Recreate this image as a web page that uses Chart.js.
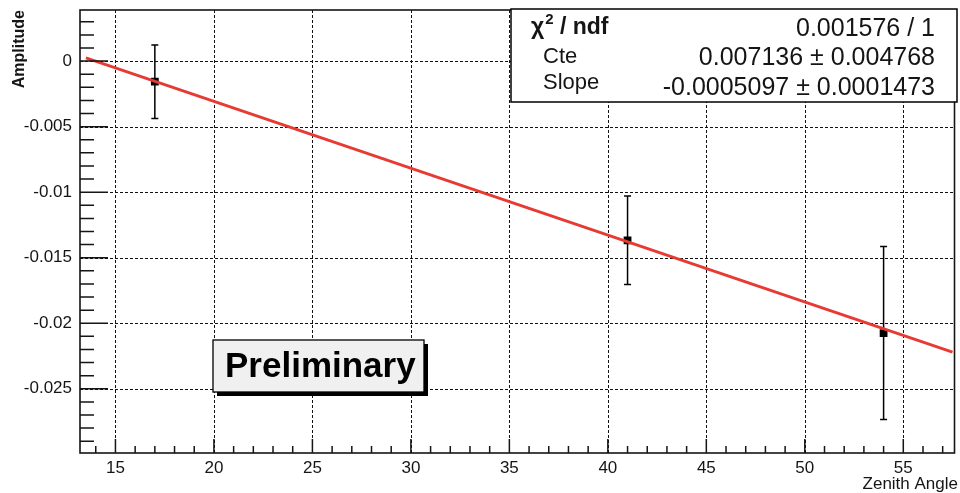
<!DOCTYPE html>
<html>
<head>
<meta charset="utf-8">
<script src="https://cdn.jsdelivr.net/npm/chart.js@4.4.1/dist/chart.umd.min.js"></script>
<style>
  html, body { margin: 0; padding: 0; background: #fff; }
  #wrap { width: 960px; height: 493px; position: relative; }
</style>
</head>
<body>
<div id="wrap"><canvas id="c"></canvas></div>
<script>
// ---- data ----
const xValues = [17, 41, 54];
const yValues = [-0.00157, -0.01367, -0.02075];
const yErrors = [0.0028, 0.00337, 0.0066];
const fitX = [13.5, 57.5];
const fitY = [0.00025, -0.0222];
const xTicks = [15, 20, 25, 30, 35, 40, 45, 50, 55];
const xTickLabels = ['15', '20', '25', '30', '35', '40', '45', '50', '55'];
const yTicks = [0, -0.005, -0.01, -0.015, -0.02, -0.025];
const yTickLabels = ['0', '-0.005', '-0.01', '-0.015', '-0.02', '-0.025'];
const statsLabels = ['\u03C7', 'Cte', 'Slope'];
const statsValues = ['0.001576 / 1', '0.007136 \u00B1 0.004768', '-0.0005097 \u00B1 0.0001473'];
const xTitle = 'Zenith Angle';
const yTitle = 'Amplitude';
const stampText = 'Preliminary';

const FONT = '"Liberation Sans", Arial, Helvetica, sans-serif';
const INK = '#151515';

const rootPlugin = {
  id: 'rootStyle',
  beforeDatasetsDraw(chart) {
    const ctx = chart.ctx, a = chart.chartArea;
    const xs = chart.scales.x, ys = chart.scales.y;
    ctx.save();
    // dotted grid
    ctx.strokeStyle = '#111';
    ctx.lineWidth = 1;
    ctx.setLineDash([3, 2]);
    xTicks.forEach(v => {
      const px = Math.round(xs.getPixelForValue(v)) + 0.5;
      ctx.beginPath(); ctx.moveTo(px, a.top); ctx.lineTo(px, a.bottom); ctx.stroke();
    });
    yTicks.forEach(v => {
      const py = Math.round(ys.getPixelForValue(v)) + 0.5;
      ctx.beginPath(); ctx.moveTo(a.left, py); ctx.lineTo(a.right, py); ctx.stroke();
    });
    ctx.setLineDash([]);
    // error bars
    ctx.strokeStyle = '#000';
    ctx.lineWidth = 1.5;
    xValues.forEach((x, i) => {
      const px = xs.getPixelForValue(x);
      const top = ys.getPixelForValue(yValues[i] + yErrors[i]);
      const bot = ys.getPixelForValue(yValues[i] - yErrors[i]);
      ctx.beginPath();
      ctx.moveTo(px, top); ctx.lineTo(px, bot);
      ctx.moveTo(px - 3.5, top); ctx.lineTo(px + 3.5, top);
      ctx.moveTo(px - 3.5, bot); ctx.lineTo(px + 3.5, bot);
      ctx.stroke();
    });
    ctx.restore();
  },
  afterDraw(chart) {
    const ctx = chart.ctx, a = chart.chartArea;
    const xs = chart.scales.x, ys = chart.scales.y;
    ctx.save();
    // ticks (inward)
    ctx.strokeStyle = INK;
    ctx.lineWidth = 1.5;
    ctx.beginPath();
    for (let k = -29; k <= 3; k++) {
      const py = ys.getPixelForValue(k * 0.001);
      const len = (k % 5 === 0) ? 28 : 14;
      ctx.moveTo(a.left, py); ctx.lineTo(a.left + len, py);
    }
    for (let k = 14; k <= 57; k++) {
      const px = xs.getPixelForValue(k);
      const len = (k % 5 === 0) ? 14 : 7;
      ctx.moveTo(px, a.bottom); ctx.lineTo(px, a.bottom - len);
    }
    ctx.stroke();
    // frame
    ctx.lineWidth = 1.6;
    ctx.strokeRect(a.left, a.top, a.right - a.left, a.bottom - a.top);

    // axis titles
    ctx.fillStyle = INK;
    ctx.font = '17px ' + FONT;
    ctx.textAlign = 'right';
    ctx.textBaseline = 'alphabetic';
    ctx.fillText(xTitle, 958, 489);
    ctx.save();
    ctx.translate(24, 10);
    ctx.rotate(-Math.PI / 2);
    ctx.textAlign = 'right';
    ctx.font = 'bold 16px ' + FONT;
    ctx.fillText(yTitle, 0, 0);
    ctx.restore();

    // stats box
    const bx = 511, by = 9, bw = 446, bh = 93;
    ctx.fillStyle = '#fff';
    ctx.fillRect(bx, by, bw, bh);
    ctx.strokeStyle = '#000';
    ctx.lineWidth = 1.5;
    ctx.strokeRect(bx, by, bw, bh);
    ctx.fillStyle = INK;
    // chi2 label
    ctx.textAlign = 'left';
    ctx.font = 'bold 23px ' + FONT;
    ctx.fillText(statsLabels[0], 531, 34);
    let w = ctx.measureText(statsLabels[0]).width;
    ctx.font = 'bold 15px ' + FONT;
    ctx.fillText('2', 531 + w + 1, 24);
    let w2 = ctx.measureText('2').width;
    ctx.font = 'bold 23px ' + FONT;
    ctx.fillText(' / ndf', 531 + w + w2 + 1, 34);
    ctx.font = '22px ' + FONT;
    ctx.fillText(statsLabels[1], 543, 63);
    ctx.fillText(statsLabels[2], 543, 89);
    ctx.textAlign = 'right';
    ctx.font = '25px ' + FONT;
    ctx.fillText(statsValues[0], 935, 36);
    ctx.fillText(statsValues[1], 935, 65);
    ctx.fillText(statsValues[2], 935, 95);

    // Preliminary stamp
    const px0 = 213, py0 = 340, pw = 211, ph = 52;
    ctx.fillStyle = '#000';
    ctx.fillRect(px0 + 4, py0 + 4, pw, ph);
    ctx.fillStyle = '#f0f0f0';
    ctx.fillRect(px0, py0, pw, ph);
    ctx.strokeStyle = '#000';
    ctx.lineWidth = 1.3;
    ctx.strokeRect(px0, py0, pw, ph);
    ctx.fillStyle = '#000';
    ctx.font = 'bold 35px ' + FONT;
    ctx.textAlign = 'left';
    ctx.fillText(stampText, 225, 377);
    ctx.restore();
  }
};

function zeroPad(s) {
  s.paddingTop = 0; s.paddingBottom = 0; s.paddingLeft = 0; s.paddingRight = 0;
}

new Chart(document.getElementById('c'), {
  type: 'scatter',
  data: {
    datasets: [
      {
        label: 'fit',
        data: fitX.map((x, i) => ({ x: x, y: fitY[i] })),
        showLine: true,
        borderColor: '#e63a33',
        borderWidth: 2.8,
        pointRadius: 0,
        order: 1
      },
      {
        label: 'data',
        data: xValues.map((x, i) => ({ x: x, y: yValues[i] })),
        pointStyle: 'rect',
        pointRadius: 5.5,
        backgroundColor: '#000',
        borderColor: '#000',
        borderWidth: 0,
        order: 2
      }
    ]
  },
  options: {
    responsive: true,
    maintainAspectRatio: false,
    animation: false,
    layout: { padding: { top: 10, right: 2, left: 0, bottom: 0 } },
    plugins: { legend: { display: false }, tooltip: { enabled: false } },
    scales: {
      x: {
        type: 'linear',
        min: 13.2,
        max: 57.6,
        afterFit(s) { s.height = 40; zeroPad(s); },
        afterBuildTicks(s) { s.ticks = xTicks.map(v => ({ value: v })); },
        grid: { display: false, drawTicks: false },
        border: { display: false },
        ticks: {
          padding: 5,
          color: INK,
          font: { family: FONT, size: 17 },
          maxRotation: 0,
          autoSkip: false,
          callback(v) { const i = xTicks.indexOf(v); return i >= 0 ? xTickLabels[i] : ''; }
        }
      },
      y: {
        type: 'linear',
        min: -0.0299,
        max: 0.0039,
        afterFit(s) { s.width = 80; zeroPad(s); },
        afterBuildTicks(s) { s.ticks = yTicks.map(v => ({ value: v })); },
        grid: { display: false, drawTicks: false },
        border: { display: false },
        ticks: {
          padding: 8,
          color: INK,
          font: { family: FONT, size: 17 },
          autoSkip: false,
          callback(v) {
            let best = -1;
            yTicks.forEach((t, i) => { if (Math.abs(t - v) < 1e-9) best = i; });
            return best >= 0 ? yTickLabels[best] : '';
          }
        }
      }
    }
  },
  plugins: [rootPlugin]
});
</script>
</body>
</html>
